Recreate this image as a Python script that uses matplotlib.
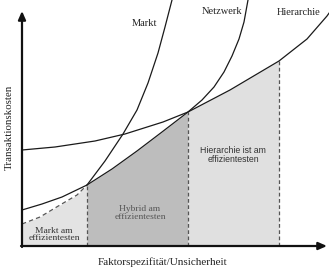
import numpy as np
import matplotlib
matplotlib.use("Agg")
import matplotlib.pyplot as plt

# cost curves (x = Faktorspezifität, y = Transaktionskosten)
markt_x = [0, 18, 38, 55, 65, 83, 101, 115, 126, 136, 143, 150, 153]
markt_y = [22, 29, 41, 51, 61, 85, 112, 136, 163, 193, 219, 246, 262]

netz_x = [0, 20, 40, 65, 90, 115, 140, 166, 180, 192, 202, 210, 217, 222, 226, 229]
netz_y = [36, 42, 49, 61, 77, 95, 114, 134, 146, 159, 174, 190, 207, 224, 246, 262]

hier_x = [0, 33, 73, 103, 141, 166, 208, 257, 285, 305, 310]
hier_y = [96, 99, 105, 112, 124, 134, 156, 185, 207, 230, 237]

# borders between the efficiency zones
grenzen = [65, 166, 257]

labels_kurven = ["Markt", "Netzwerk", "Hierarchie"]
labels_zonen = ["Markt am\neffizientesten", "Hybrid am\neffizientesten",
                "Hierarchie ist am\neffizientesten"]

serif = "Liberation Serif"
sans = "Liberation Sans"

fig = plt.figure(figsize=(3.29, 2.69), dpi=100)
ax = fig.add_axes([0, 0, 1, 1])
ax.set_xlim(-22, 307)
ax.set_ylim(-23, 246)
ax.axis("off")

mx, my = np.array(markt_x), np.array(markt_y)
nx, ny = np.array(netz_x), np.array(netz_y)
hx, hy = np.array(hier_x), np.array(hier_y)

# shaded zones
m = mx <= grenzen[0]
ax.fill_between(mx[m], 0, my[m], color="#e3e3e3", lw=0, zorder=1)
m = (nx >= grenzen[0]) & (nx <= grenzen[1])
ax.fill_between(nx[m], 0, ny[m], color="#bdbdbd", lw=0, zorder=1)
m = (hx >= grenzen[1]) & (hx <= grenzen[2])
ax.fill_between(hx[m], 0, hy[m], color="#e0e0e0", lw=0, zorder=1)

# curves
lc = "#1a1a1a"
m = mx <= grenzen[0]
ax.plot(mx[m], my[m], color="#555555", lw=0.9, ls=(0, (3.5, 2.5)), zorder=3)
m = mx >= grenzen[0]
ax.plot(mx[m], my[m], color=lc, lw=0.9, zorder=3)
ax.plot(nx, ny, color=lc, lw=0.9, zorder=3)
ax.plot(hx, hy, color=lc, lw=0.9, zorder=3)

# vertical dashed borders
tops = [my[list(mx).index(grenzen[0])], ny[list(nx).index(grenzen[1])],
        hy[list(hx).index(grenzen[2])]]
for g, t in zip(grenzen, tops):
    ax.plot([g, g], [0, t], color="#555555", lw=0.9, ls=(0, (3, 2)), zorder=2)

# axes with arrows
ax.annotate("", xy=(0, 235), xytext=(0, -1),
            arrowprops=dict(arrowstyle="-|>,head_length=0.5,head_width=0.22",
                            color="#111111", lw=1.6, shrinkA=0, shrinkB=0), zorder=4)
ax.annotate("", xy=(305, 0), xytext=(-1, 0),
            arrowprops=dict(arrowstyle="-|>,head_length=0.5,head_width=0.22",
                            color="#111111", lw=1.6, shrinkA=0, shrinkB=0), zorder=4)

# curve labels
ax.text(123, 223, labels_kurven[0], family=serif, fontsize=7.5, ha="center", va="center", color="#222222")
ax.text(200, 235, labels_kurven[1], family=serif, fontsize=7.5, ha="center", va="center", color="#222222")
ax.text(277, 233.5, labels_kurven[2], family=serif, fontsize=7.5, ha="center", va="center", color="#222222")

# zone labels
ax.text(32, 11.5, labels_zonen[0], family=serif, fontsize=6.8, ha="center", va="center",
        color="#333333", linespacing=0.95)
ax.text(118, 33, labels_zonen[1], family=serif, fontsize=6.8, ha="center", va="center",
        color="#555555", linespacing=0.95)
ax.text(211, 91, labels_zonen[2], family=sans, fontsize=6.3, ha="center", va="center",
        color="#333333", linespacing=1.05)

# axis titles
ax.text(-13, 119, "Transaktionskosten", family=serif, fontsize=7.8, rotation=90,
        ha="center", va="center", color="#222222")
ax.text(141, -16, "Faktorspezifität/Unsicherheit", family=serif, fontsize=8,
        ha="center", va="center", color="#222222")

fig.savefig("out.png", dpi=100)
